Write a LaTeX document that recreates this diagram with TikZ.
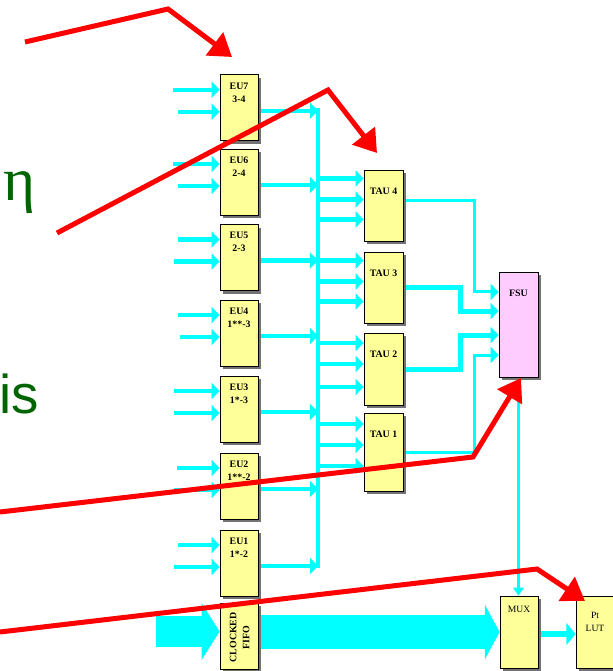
\documentclass[tikz,border=0pt]{standalone}
\usepackage{fontspec}
\setmainfont{Liberation Serif}
\newfontfamily\slidesans{Liberation Sans}
\usepackage{tikz}
\usetikzlibrary{calc,arrows.meta,positioning,shadows}
\definecolor{trigcyan}{RGB}{0,255,255}
\definecolor{trigyellow}{RGB}{255,255,153}
\definecolor{trigpink}{RGB}{255,204,255}
\definecolor{trigred}{RGB}{255,0,0}
\definecolor{slidegreen}{RGB}{0,100,0}

\tikzset{
  unit/.style={draw=black,line width=0.6pt,fill=trigyellow,inner sep=0pt,
    minimum width=28.5pt,minimum height=49.5pt,
    drop shadow={shadow xshift=2.25pt,shadow yshift=-2.25pt,fill=black!55,opacity=1}},
  unitname/.style={inner sep=0pt,align=center,font=\bfseries\fontsize{7.4}{9.75}\selectfont},
  plainname/.style={inner sep=0pt,align=center,font=\fontsize{7.2}{9.75}\selectfont},
  feed/.style={draw=trigcyan,line width=3.2pt,-{Triangle[length=6pt,width=12pt]}},
  tauout/.style={draw=trigcyan,line width=2.25pt,-{Triangle[length=6pt,width=12pt]}},
  trunk/.style={draw=trigcyan,line width=3pt,line cap=rect},
  bulk/.style={draw=trigcyan,line width=23.25pt,-{Triangle[length=13.5pt,width=42pt]}},
  redmark/.style={draw=trigred,line width=3.75pt,-{Triangle[length=16.5pt,width=21pt]}}
}

\begin{document}
\begin{tikzpicture}[x=0.75pt,y=-0.75pt]
  \useasboundingbox (0,0) rectangle (613,671);

  \node[anchor=base,inner sep=0pt,text=slidegreen,font=\fontsize{46}{46}\selectfont] (eta) at (20,200) {η};
  \node[anchor=base west,inner sep=0pt,text=slidegreen,font=\slidesans\fontsize{41}{41}\selectfont] (isword) at (-1,413) {is};

  \node[unit] (eu7) at (239,107.7) {};
  \node[unit] (eu6) at (239,182) {};
  \node[unit] (eu5) at (239,257.5) {};
  \node[unit] (eu4) at (239,333) {};
  \node[unit] (eu3) at (239,409) {};
  \node[unit] (eu2) at (239,486) {};
  \node[unit] (eu1) at (239,563) {};
  \node[unit] (fifo) at (239,636) {};

  \node[unitname,below=6pt of eu7.north] (eu7name) {EU7\\3-4};
  \node[unitname,below=6pt of eu6.north] (eu6name) {EU6\\2-4};
  \node[unitname,below=6pt of eu5.north] (eu5name) {EU5\\2-3};
  \node[unitname,below=6pt of eu4.north] (eu4name) {EU4\\1**-3};
  \node[unitname,below=6pt of eu3.north] (eu3name) {EU3\\1*-3};
  \node[unitname,below=6pt of eu2.north] (eu2name) {EU2\\1**-2};
  \node[unitname,below=6pt of eu1.north] (eu1name) {EU1\\1*-2};
  \node[unitname,rotate=90] (fifoname) at ([xshift=0.5pt,yshift=-1pt]fifo.center) {CLOCKED\\FIFO};

  \node[unit,minimum width=29.25pt,minimum height=53.25pt] (tau4) at (383.5,205.5) {};
  \node[unit,minimum width=29.25pt,minimum height=53.25pt] (tau3) at (383.5,287.5) {};
  \node[unit,minimum width=29.25pt,minimum height=54pt] (tau2) at (383.5,369) {};
  \node[unit,minimum width=29.25pt,minimum height=58.5pt] (tau1) at (383.5,452) {};
  \node[unitname,below=13.5pt of tau4.north] (tau4name) {TAU 4};
  \node[unitname,below=13.5pt of tau3.north] (tau3name) {TAU 3};
  \node[unitname,below=13.5pt of tau2.north] (tau2name) {TAU 2};
  \node[unitname,below=13.5pt of tau1.north] (tau1name) {TAU 1};

  \node[unit,fill=trigpink,minimum width=29.25pt,minimum height=78.75pt] (fsu) at (518.5,324.5) {};
  \node[unitname,below=13.5pt of fsu.north] (fsuname) {FSU};

  \node[unit,minimum height=54pt] (mux) at (519,632) {};
  \node[plainname,below=7.5pt of mux.north] (muxname) {MUX};
  \node[unit,minimum height=54pt] (lut) at (595,632) {};
  \node[plainname,below=12pt of lut.north] (lutname) {Pt\\LUT};

  \draw[feed] ([xshift=-35pt,yshift=13.5pt]eu7.west) -- ([yshift=13.5pt]eu7.west);
  \draw[feed] ([xshift=-31pt,yshift=-3pt]eu7.west) -- ([yshift=-3pt]eu7.west);
  \draw[feed] ([xshift=-35pt,yshift=13.5pt]eu6.west) -- ([yshift=13.5pt]eu6.west);
  \draw[feed] ([xshift=-31pt,yshift=-3pt]eu6.west) -- ([yshift=-3pt]eu6.west);
  \draw[feed] ([xshift=-31pt,yshift=13.5pt]eu5.west) -- ([yshift=13.5pt]eu5.west);
  \draw[feed] ([xshift=-34pt,yshift=-3pt]eu5.west) -- ([yshift=-3pt]eu5.west);
  \draw[feed] ([xshift=-31pt,yshift=13.5pt]eu4.west) -- ([yshift=13.5pt]eu4.west);
  \draw[feed] ([xshift=-30pt,yshift=-3pt]eu4.west) -- ([yshift=-3pt]eu4.west);
  \draw[feed] ([xshift=-34pt,yshift=13.5pt]eu3.west) -- ([yshift=13.5pt]eu3.west);
  \draw[feed] ([xshift=-34pt,yshift=-3pt]eu3.west) -- ([yshift=-3pt]eu3.west);
  \draw[feed] ([xshift=-32pt,yshift=13.5pt]eu2.west) -- ([yshift=13.5pt]eu2.west);
  \draw[feed] ([xshift=-34pt,yshift=-3pt]eu2.west) -- ([yshift=-3pt]eu2.west);
  \draw[feed] ([xshift=-31pt,yshift=13.5pt]eu1.west) -- ([yshift=13.5pt]eu1.west);
  \draw[feed] ([xshift=-34pt,yshift=-3pt]eu1.west) -- ([yshift=-3pt]eu1.west);

  \coordinate (bus) at (318,110);
  \draw[trunk] (bus) -- ([yshift=-2.25pt]eu1.east -| bus);
  \draw[feed] ([xshift=2.25pt,yshift=-2.25pt]eu7.east) -- ([yshift=-2.25pt]eu7.east -| bus);
  \draw[feed] ([xshift=2.25pt,yshift=-2.25pt]eu6.east) -- ([yshift=-2.25pt]eu6.east -| bus);
  \draw[feed] ([xshift=2.25pt,yshift=-2.25pt]eu5.east) -- ([yshift=-2.25pt]eu5.east -| bus);
  \draw[feed] ([xshift=2.25pt,yshift=-2.25pt]eu4.east) -- ([yshift=-2.25pt]eu4.east -| bus);
  \draw[feed] ([xshift=2.25pt,yshift=-2.25pt]eu3.east) -- ([yshift=-2.25pt]eu3.east -| bus);
  \draw[feed] ([xshift=2.25pt,yshift=-2.25pt]eu2.east) -- ([yshift=-2.25pt]eu2.east -| bus);
  \draw[feed] ([xshift=2.25pt,yshift=-2.25pt]eu1.east) -- ([yshift=-2.25pt]eu1.east -| bus);

  \draw[feed] ([yshift=20.25pt]tau4.west -| bus) -- ([yshift=20.25pt]tau4.west);
  \draw[feed] ([yshift=4.5pt]tau4.west -| bus) -- ([yshift=4.5pt]tau4.west);
  \draw[feed] ([yshift=-10.5pt]tau4.west -| bus) -- ([yshift=-10.5pt]tau4.west);
  \draw[feed] ([yshift=20.25pt]tau3.west -| bus) -- ([yshift=20.25pt]tau3.west);
  \draw[feed] ([yshift=4.5pt]tau3.west -| bus) -- ([yshift=4.5pt]tau3.west);
  \draw[feed] ([yshift=-10.5pt]tau3.west -| bus) -- ([yshift=-10.5pt]tau3.west);
  \draw[feed] ([yshift=19.5pt]tau2.west -| bus) -- ([yshift=19.5pt]tau2.west);
  \draw[feed] ([yshift=3.75pt]tau2.west -| bus) -- ([yshift=3.75pt]tau2.west);
  \draw[feed] ([yshift=-13.5pt]tau2.west -| bus) -- ([yshift=-13.5pt]tau2.west);
  \draw[feed] ([yshift=21pt]tau1.west -| bus) -- ([yshift=21pt]tau1.west);
  \draw[feed] ([yshift=5.25pt]tau1.west -| bus) -- ([yshift=5.25pt]tau1.west);
  \draw[feed] ([yshift=-10.5pt]tau1.west -| bus) -- ([yshift=-10.5pt]tau1.west);

  \draw[tauout] ([xshift=2.25pt,yshift=3.4pt]tau4.east) -| ([xshift=-18pt,yshift=24.4pt]fsu.west) -- ([yshift=24.4pt]fsu.west);
  \draw[tauout,line width=3.75pt] ([xshift=2.25pt]tau3.east) -| ([xshift=-28.5pt,yshift=10.1pt]fsu.west) -- ([yshift=10.1pt]fsu.west);
  \draw[tauout,line width=3.75pt] ([xshift=2.25pt]tau2.east) -| ([xshift=-28.5pt,yshift=-7.9pt]fsu.west) -- ([yshift=-7.9pt]fsu.west);
  \draw[tauout] ([xshift=2.25pt]tau1.east) -| ([xshift=-18pt,yshift=-22.9pt]fsu.west) -- ([yshift=-22.9pt]fsu.west);

  \draw[draw=trigcyan,line width=1.9pt,-{Triangle[length=6pt,width=8pt]}] ([yshift=-2.25pt]fsu.south) -- (fsu.south |- mux.north);

  \coordinate (fifofeed) at (156,631.5);
  \draw[bulk] (fifofeed) -- (fifofeed -| fifo.west);
  \draw[bulk,line width=26pt,-{Triangle[length=11pt,width=40.5pt]}] ([xshift=2.25pt]mux.west -| fifo.east) -- (mux.west);
  \draw[feed,line width=5pt,-{Triangle[length=7pt,width=16.5pt]}] ([xshift=2.25pt,yshift=-1.5pt]mux.east) -- ([yshift=-1.5pt]lut.west);

  \coordinate (m1a) at (25,42); \coordinate (m1b) at (168,9); \coordinate (m1c) at (232,57);
  \coordinate (m2a) at (57,233); \coordinate (m2b) at (328,90); \coordinate (m2c) at (377,153);
  \coordinate (m3a) at (0,512); \coordinate (m3b) at (473,457); \coordinate (m3c) at (521,378);
  \coordinate (m4a) at (0,632); \coordinate (m4b) at (537,569); \coordinate (m4c) at (585,601);

  \draw[redmark] (m1a) -- (m1b) -- (m1c);
  \draw[redmark] (m2a) -- (m2b) -- (m2c);
  \draw[redmark] (m3a) -- (m3b) -- (m3c);
  \draw[redmark] (m4a) -- (m4b) -- (m4c);
\end{tikzpicture}
\end{document}
